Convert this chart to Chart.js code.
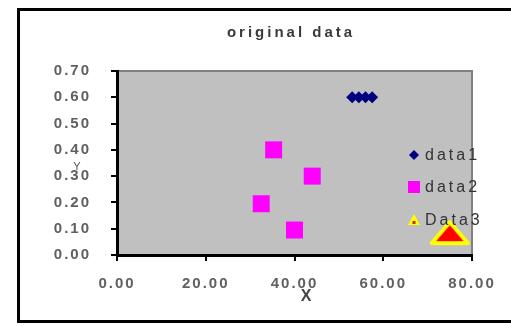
<!DOCTYPE html>
<html>
<head>
<meta charset="utf-8">
<script src="https://cdn.jsdelivr.net/npm/chart.js@4/dist/chart.umd.min.js"></script>
<style>
  html, body { margin: 0; padding: 0; background: #fff; }
  #wrap { position: relative; width: 511px; height: 326px; }
</style>
</head>
<body>
<div id="wrap"><canvas id="grafica" width="511" height="326"></canvas></div>
<script>
// datos
const tituloGrafica = 'original data';
const nombresSeries = ['data1', 'data2', 'Data3'];
const data1X = [53, 54.5, 56, 57.5];
const data1Y = [0.6, 0.6, 0.6, 0.6];
const data2X = [35.3, 44, 32.5, 40];
const data2Y = [0.4, 0.3, 0.195, 0.095];
const data3X = [75];
const data3Y = [0.085];
const ticksX = [0, 20, 40, 60, 80];
const ticksY = [0, 0.1, 0.2, 0.3, 0.4, 0.5, 0.6, 0.7];

const fuente = "'Liberation Sans', Arial, sans-serif";

function puntos(xs, ys) {
    return xs.map((x, i) => ({ x: x, y: ys[i] }));
}

// triangulo rojo con borde amarillo (marcador de Data3)
function crearTriangulo(w, h, lw) {
    const c = document.createElement('canvas');
    c.width = w; c.height = h;
    const g = c.getContext('2d');
    g.beginPath();
    g.moveTo(w / 2, lw);
    g.lineTo(w - lw, h - lw);
    g.lineTo(lw, h - lw);
    g.closePath();
    g.fillStyle = '#ff0000';
    g.fill();
    g.lineJoin = 'round';
    g.lineWidth = lw;
    g.strokeStyle = '#ffff00';
    g.stroke();
    return c;
}
const trianguloGrande = crearTriangulo(44, 29, 4);

// marco, fondo gris y textos extra
const extras = {
    id: 'extras',
    beforeDraw(chart) {
        const ctx = chart.ctx;
        const a = chart.chartArea;
        ctx.save();
        ctx.strokeStyle = '#000';
        ctx.lineWidth = 3;
        ctx.strokeRect(18.5, 9.5, 520, 312);
        ctx.fillStyle = '#c0c0c0';
        ctx.fillRect(a.left, a.top, a.right - a.left, a.bottom - a.top);
        ctx.strokeStyle = '#808080';
        ctx.lineWidth = 2;
        ctx.beginPath();
        ctx.moveTo(a.left, a.top);
        ctx.lineTo(a.right, a.top);
        ctx.lineTo(a.right, a.bottom);
        ctx.stroke();
        ctx.restore();
        ctx.letterSpacing = '2px';
    },
    afterDraw(chart) {
        const ctx = chart.ctx;
        ctx.save();
        // titulo
        ctx.letterSpacing = '3px';
        ctx.fillStyle = '#3a3a3a';
        ctx.font = 'bold 15px ' + fuente;
        ctx.textAlign = 'center';
        ctx.textBaseline = 'middle';
        ctx.fillText(tituloGrafica, 291, 33);
        // titulos de ejes
        ctx.letterSpacing = '0px';
        ctx.font = 'bold 16px ' + fuente;
        ctx.fillStyle = '#444';
        ctx.fillText('X', 306, 297);
        ctx.font = '11px ' + fuente;
        ctx.fillStyle = '#555';
        ctx.fillText('Y', 77, 167);

        // leyenda
        const filas = [155, 187, 220];
        const xm = 414;
        ctx.fillStyle = '#000080';
        ctx.beginPath();
        ctx.moveTo(xm, filas[0] - 5);
        ctx.lineTo(xm + 5, filas[0]);
        ctx.lineTo(xm, filas[0] + 5);
        ctx.lineTo(xm - 5, filas[0]);
        ctx.closePath();
        ctx.fill();
        ctx.fillStyle = '#ff00ff';
        ctx.fillRect(xm - 6, filas[1] - 6, 12, 12);
        ctx.beginPath();
        ctx.moveTo(xm, filas[2] - 6);
        ctx.lineTo(xm + 6, filas[2] + 5);
        ctx.lineTo(xm - 6, filas[2] + 5);
        ctx.closePath();
        ctx.fillStyle = '#ffff00';
        ctx.fill();
        ctx.fillStyle = '#cc3300';
        ctx.fillRect(xm - 1.5, filas[2] + 1, 3, 3);

        ctx.letterSpacing = '3px';
        ctx.font = '16px ' + fuente;
        ctx.fillStyle = '#333';
        ctx.textAlign = 'left';
        nombresSeries.forEach((n, i) => ctx.fillText(n, 425, filas[i] + 1));
        ctx.restore();
    }
};

const ctx = document.getElementById('grafica');
new Chart(ctx, {
    type: 'scatter',
    data: {
        datasets: [{
            label: nombresSeries[0],
            data: puntos(data1X, data1Y),
            pointStyle: 'rectRot',
            pointRadius: 6,
            backgroundColor: '#000080',
            borderColor: '#000080',
            borderWidth: 0
        }, {
            label: nombresSeries[1],
            data: puntos(data2X, data2Y),
            pointStyle: 'rect',
            pointRadius: 12,
            backgroundColor: '#ff00ff',
            borderColor: '#ff00ff',
            borderWidth: 0
        }, {
            label: nombresSeries[2],
            data: puntos(data3X, data3Y),
            pointStyle: trianguloGrande,
            pointRadius: 20
        }]
    },
    options: {
        responsive: false,
        animation: false,
        events: [],
        clip: false,
        layout: { padding: { top: 71, right: 39, left: 0, bottom: 0 } },
        plugins: {
            legend: { display: false },
            title: { display: false },
            tooltip: { enabled: false }
        },
        scales: {
            x: {
                type: 'linear',
                min: 0,
                max: 80,
                afterFit: s => { s.height = 71; },
                afterBuildTicks: s => { s.ticks = ticksX.map(v => ({ value: v })); },
                ticks: {
                    color: '#606060',
                    padding: 14,
                    font: { family: fuente, size: 15, weight: 'bold' },
                    callback: v => v.toFixed(2)
                },
                grid: { drawOnChartArea: false, drawTicks: true, tickLength: 6, color: '#000', lineWidth: 2 },
                border: { display: true, color: '#000', width: 3 }
            },
            y: {
                type: 'linear',
                min: 0,
                max: 0.7,
                afterFit: s => { s.width = 117; },
                afterBuildTicks: s => { s.ticks = ticksY.map(v => ({ value: v })); },
                ticks: {
                    color: '#606060',
                    padding: 20,
                    font: { family: fuente, size: 15, weight: 'bold' },
                    callback: v => v.toFixed(2)
                },
                grid: { drawOnChartArea: false, drawTicks: true, tickLength: 6, color: '#000', lineWidth: 2 },
                border: { display: true, color: '#000', width: 3 }
            }
        }
    },
    plugins: [extras]
});
</script>
</body>
</html>
